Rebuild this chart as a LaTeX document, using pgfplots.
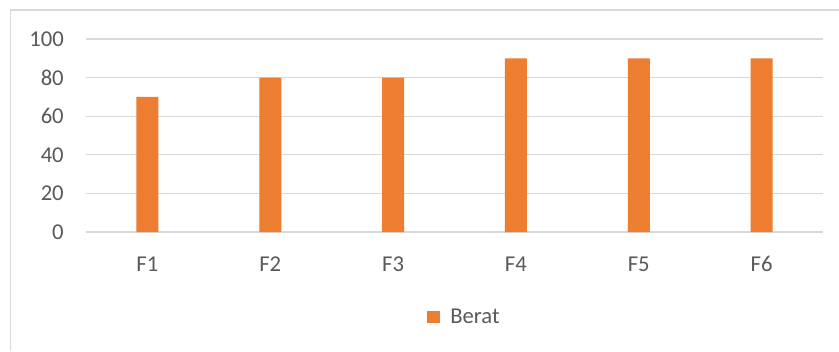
\documentclass[border=0pt]{standalone}
\usepackage{pgfplots}
\pgfplotsset{compat=1.18}
\usepackage{fontspec}
\setmainfont{Carlito}
\definecolor{barorange}{HTML}{ED7D31}
\definecolor{gridgray}{HTML}{D9D9D9}
\definecolor{textgray}{HTML}{595959}
\begin{document}
\begin{tikzpicture}
% chart frame (top and left edges)
\draw[gridgray, line width=1.2pt] (8pt,0pt) -- (8pt,255.75pt) -- (629.25pt,255.75pt);
\begin{axis}[
  at={(64.5pt,89.25pt)}, anchor=south west,
  scale only axis, width=552.75pt, height=144.75pt,
  ybar, bar width=16.5pt,
  xmin=-0.5, xmax=5.5, ymin=0, ymax=100,
  xtick=data, xticklabels={F1,F2,F3,F4,F5,F6},
  ytick={0,20,40,60,80,100},
  major tick length=0pt,
  axis x line*=bottom, axis y line*=left,
  x axis line style={gridgray, line width=1pt},
  y axis line style={draw=none},
  ymajorgrids, grid style={gridgray, line width=1pt},
  /pgf/number format/assume math mode=true,
  tick label style={font=\fontsize{17}{20}\selectfont, text=textgray, inner sep=0pt},
  yticklabel style={anchor=east, xshift=-16.5pt},
  xticklabel style={anchor=base, yshift=-29.8pt},
  legend style={draw=none, fill=none, inner sep=0pt,
    at={(axis description cs:0.4627,-0.44)}, anchor=west,
    font=\fontsize{17}{20}\selectfont, text=textgray,
    /tikz/every odd column/.append style={column sep=5.5pt}},
  legend image code/.code={\fill[#1] (0pt,-4.75pt) rectangle (9.75pt,4.75pt);},
]
\addplot[fill=barorange, draw=none] coordinates {(0,70) (1,80) (2,80) (3,90) (4,90) (5,90)};
\addlegendentry{Berat}
\end{axis}
\pgfresetboundingbox
\path[use as bounding box] (0,0) rectangle (629.25pt,263.25pt);
\end{tikzpicture}
\end{document}
